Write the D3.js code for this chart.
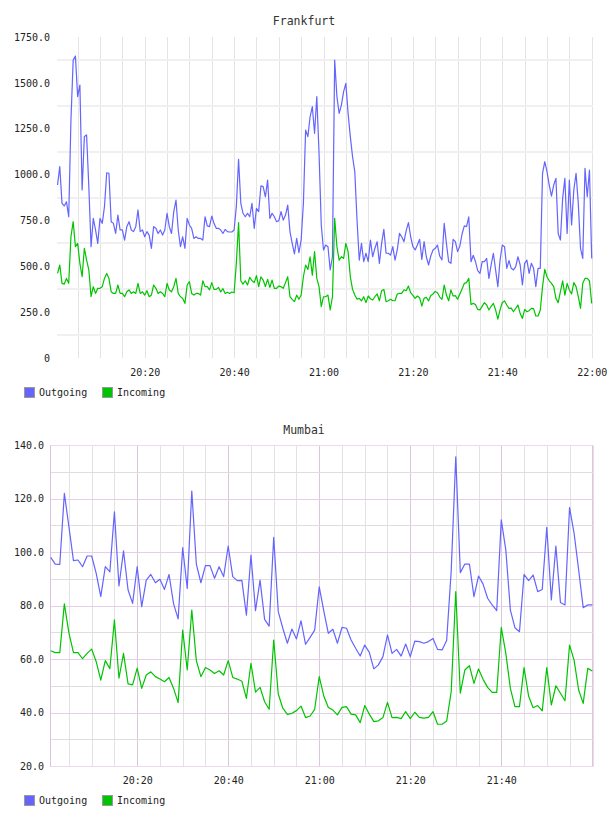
<!DOCTYPE html>
<html>
<head>
<meta charset="utf-8">
<script src="https://cdn.jsdelivr.net/npm/d3@7"></script>
<style>
  body { margin: 0; background: #fff; }
  svg text { font-family: "DejaVu Sans Mono", monospace; }
  .title { font-size: 11.5px; fill: #333; }
  .legend text { font-size: 10px; fill: #222; }
  .series { fill: none; stroke-width: 1.2; stroke-linejoin: round; }
</style>
</head>
<body>
<div id="chart"></div>
<script>
// Frankfurt: one sample every 30 s, starting 20:00:30
const frankfurtOutgoing = [
  943, 1043, 843, 829, 852, 770, 1297, 1624, 1646, 1425, 1488, 916, 1207, 1216, 934, 607,
  761, 698, 625, 761, 734, 825, 1010, 1007, 743, 734, 679, 779, 698, 698, 643, 716,
  743, 698, 689, 716, 807, 689, 698, 661, 689, 670, 598, 716, 707, 679, 698, 670,
  698, 789, 716, 679, 798, 861, 698, 607, 661, 598, 761, 725, 707, 652, 661, 652,
  652, 643, 770, 720, 716, 774, 734, 707, 707, 698, 679, 701, 689, 687, 687, 698,
  825, 1083, 843, 789, 770, 789, 770, 843, 707, 816, 798, 938, 934, 879, 970, 761,
  789, 770, 743, 749, 798, 752, 779, 834, 689, 625, 567, 652, 574, 643, 843, 1243,
  1207, 1315, 1370, 1225, 1425, 1116, 725, 589, 616, 607, 480, 552, 1624, 1425, 1334, 1379,
  1452, 1497, 1334, 1207, 1097, 1016, 752, 534, 625, 525, 571, 525, 643, 552, 598, 634,
  516, 625, 701, 571, 571, 561, 607, 534, 589, 679,
  661, 634, 694, 738, 661, 607, 589, 616, 647, 538, 634, 552, 507, 556, 589, 598,
  616, 556, 534, 734, 625, 525, 516, 647, 634, 580, 610, 676, 720, 716, 770, 525,
  560, 525, 476, 461, 525, 525, 543, 434, 507, 571, 480, 389, 534, 616, 607, 489,
  531, 489, 480, 498, 552, 507, 398, 516, 534, 461, 516, 489, 389, 489, 489, 1007,
  1070, 1016, 943, 883, 943, 979, 679, 643, 870, 979, 679, 970, 725, 916, 1007, 843,
  598, 543, 1034, 879, 1025, 543
];
const frankfurtIncoming = [
  461, 507, 407, 403, 434, 407, 661, 743, 607, 625, 516, 443, 598, 534, 480, 334,
  389, 352, 380, 380, 389, 434, 461, 434, 361, 352, 352, 398, 352, 352, 334, 361,
  371, 352, 361, 352, 407, 352, 361, 343, 367, 334, 343, 398, 380, 352, 361, 352,
  334, 407, 371, 361, 389, 434, 352, 334, 325, 298, 398, 416, 352, 343, 352, 352,
  343, 421, 389, 389, 371, 411, 374, 374, 385, 360, 378, 352, 358, 352, 360, 356,
  516, 738, 421, 403, 421, 398, 440, 421, 411, 449, 389, 443, 425, 389, 429, 385,
  425, 380, 380, 392, 389, 380, 411, 443, 334, 320, 307, 343, 320, 343, 443, 507,
  483, 552, 452, 580, 434, 389, 280, 334, 334, 343, 262, 334, 761, 607, 534, 552,
  543, 625, 580, 443, 374, 343, 320, 325, 312, 334, 302, 338, 323, 316, 334, 349,
  312, 367, 374, 307, 312, 320, 312, 312, 349, 352,
  352, 372, 367, 392, 356, 341, 325, 338, 329, 283, 325, 331, 311, 341, 349, 363,
  356, 332, 320, 398, 343, 312, 371, 338, 340, 320, 349, 376, 407, 411, 434, 292,
  298, 292, 265, 262, 283, 302, 289, 262, 282, 298, 262, 212, 262, 303, 311, 289,
  271, 272, 252, 271, 289, 242, 216, 265, 252, 258, 271, 269, 229, 229, 262, 389,
  483, 443, 421, 407, 389, 325, 302, 362, 421, 343, 407, 371, 349, 411, 389, 334,
  271, 407, 434, 434, 421, 298
];

// Mumbai: one sample a minute, starting 20:01
const mumbaiOutgoing = [
  98, 95.5, 95.4, 121.9, 109.5, 96.8, 97, 94.5, 98.5, 98.5, 92, 83.3, 94.5, 92.6, 115, 87.3,
  100.4, 85.8, 80.8, 94.5, 79.6, 89.5, 91.6, 88.5, 89.8, 86, 91.6, 80.6, 75, 101.6, 86.4, 122.8,
  95.5, 88.5, 94.9, 94.9, 90.2, 94.5, 90.8, 102.2, 90.8, 89.3, 89.4, 76.4, 98.8, 78.1, 89.5, 74.8,
  72.3, 105.5, 77.7, 71.5, 65.9, 71.2, 67.5, 74.3, 65.5, 68.1, 70.8, 87, 78,
  69.6, 71.1, 65.9, 71.8, 71.5, 67.1, 64, 61.1, 65.2, 62.5, 56.3, 57.8, 60.9, 69, 62.1, 63.6,
  61.1, 65.6, 60.9, 66.7, 66.5, 65.9, 66.5, 67.7, 63.6, 63.4, 66.9, 93, 135.6, 92.3, 95.5, 95.5,
  83.3, 91, 88, 82.7, 80.2, 78.1, 112, 100.7, 78.3, 71.7, 70.2, 91.6, 89.3, 91.4, 85.2, 86,
  109.2, 82.1, 102.2, 81.1, 80.2, 116.6, 107, 93.3, 79.2, 80.2, 80.2
];
const mumbaiIncoming = [
  63.1, 62.4, 62.4, 80.6, 69.8, 62.4, 62.4, 60.1, 62.1, 63.7, 59, 52.1, 59.4, 56.4, 74.6, 52.8,
  62.1, 50.7, 50.3, 56.6, 49, 54, 55.2, 53.4, 52.5, 51.5, 53.1, 49, 43.7, 70.8, 55.9, 78.3,
  59.4, 53.4, 56.8, 55.9, 54.6, 55.6, 54, 59.4, 53.1, 52.5, 51.7, 45.3, 58.4, 47.6, 49.4, 44,
  41.2, 67.1, 46.9, 41.6, 39.3, 39.7, 40.7, 42.4, 38.1, 38.7, 41.2, 53.4, 46.2,
  41.9, 40.9, 39.1, 41.9, 42.2, 39.4, 39.1, 36.2, 42.6, 39.4, 36.6, 36.9, 38.1, 43.8, 38.1, 38.2,
  37.7, 40.3, 37.7, 40.1, 38.2, 37.9, 38.2, 40.3, 35.6, 35.6, 36.8, 47.8, 85.2, 47.2, 55.9, 57.5,
  50.9, 56.3, 52.4, 49.4, 47.5, 47.5, 71.8, 62.1, 49, 42.2, 42.2, 56.8, 46.2, 41.8, 42.6, 40.6,
  56.8, 42.8, 50, 47.2, 44.4, 65.2, 59.6, 48.4, 43.4, 56.5, 55.5
];

// tick labels / grid values
const frankfurtYTicks = [0, 250, 500, 750, 1000, 1250, 1500, 1750];
const frankfurtYGrid  = [125, 375, 625, 875, 1125, 1375, 1625];
const mumbaiYTicks    = [20, 40, 60, 80, 100, 120, 140];
const mumbaiYMinor    = [30, 50, 70, 90, 110, 130];
const seriesNames     = ["Outgoing", "Incoming"];

const COLOR = { out: "#6464ff", in: "#00c400" };

const at = (h, m, s = 0) => new Date(2012, 0, 1, h, m, s);
const fmtTime = d3.timeFormat("%H:%M");

const svg = d3.select("#chart").append("svg")
  .attr("width", 608).attr("height", 816);

function drawChart(cfg) {
  const g = svg.append("g");
  const box = cfg.box;

  // Scales
  const x = d3.scaleTime().domain(cfg.xDomain).range(cfg.xRange);
  const y = d3.scaleLinear().domain(cfg.yDomain).range([box.bottom, box.top]);

  const times = cfg.outgoing.map((d, i) => d3.timeSecond.offset(cfg.start, i * cfg.step));

  // grid: vertical lines every 5 minutes, heavier every 20 on the framed chart
  const vTicks = x.ticks(d3.timeMinute.every(5)).filter(t => x(t) > box.left + 1 && x(t) <= box.right);
  g.append("g").selectAll("line").data(vTicks).join("line")
    .attr("x1", d => Math.round(x(d)) + 0.5).attr("x2", d => Math.round(x(d)) + 0.5)
    .attr("y1", box.top).attr("y2", box.bottom)
    .attr("stroke", d => (cfg.framed && d.getMinutes() % 20 === 0) ? "#dcc6dc" : cfg.vGridColor)
    .attr("stroke-width", 1);

  if (cfg.framed) {
    g.append("g").selectAll("line").data(cfg.yMinor).join("line")
      .attr("x1", box.left).attr("x2", box.right)
      .attr("y1", d => Math.round(y(d)) + 0.5).attr("y2", d => Math.round(y(d)) + 0.5)
      .attr("stroke", "#dedede");
    g.append("g").selectAll("line").data(cfg.yTicks).join("line")
      .attr("x1", box.left).attr("x2", box.right)
      .attr("y1", d => Math.round(y(d)) + 0.5).attr("y2", d => Math.round(y(d)) + 0.5)
      .attr("stroke", "#e6cee6");
    // frame, left side a bit darker
    g.append("rect")
      .attr("x", box.left + 0.5).attr("y", box.top + 0.5)
      .attr("width", box.right - box.left).attr("height", box.bottom - box.top)
      .attr("fill", "none").attr("stroke", "#ecdaec");
    g.append("line")
      .attr("x1", box.left + 0.5).attr("x2", box.left + 0.5)
      .attr("y1", box.top).attr("y2", box.bottom + 1)
      .attr("stroke", "#dcc4dc");
  } else {
    g.append("g").selectAll("line").data(cfg.yGrid).join("line")
      .attr("x1", box.left).attr("x2", box.right)
      .attr("y1", d => Math.round(y(d))).attr("y2", d => Math.round(y(d)))
      .attr("stroke", "#f0f0f0").attr("stroke-width", 2);
  }

  // series
  const line = d3.line().x((d, i) => x(times[i])).y(d => y(d));
  g.append("path").datum(cfg.outgoing).attr("class", "series").attr("stroke", COLOR.out).attr("d", line);
  g.append("path").datum(cfg.incoming).attr("class", "series").attr("stroke", COLOR.in).attr("d", line);

  // axis
  const xAxis = g.append("g")
    .attr("transform", `translate(0,${box.bottom})`)
    .call(d3.axisBottom(x).tickValues(cfg.xTicks).tickFormat(fmtTime).tickSize(0).tickPadding(11));
  const yAxis = g.append("g")
    .attr("transform", `translate(${box.left},0)`)
    .call(d3.axisLeft(y).tickValues(cfg.yTicks)
      .tickFormat(d => d === 0 ? "0" : d.toFixed(1)).tickSize(0).tickPadding(cfg.labelGap));
  [xAxis, yAxis].forEach(a => {
    a.select(".domain").remove();
    a.attr("font-family", "DejaVu Sans Mono, monospace").attr("font-size", 10).attr("color", "#222");
  });

  // title
  g.append("text").attr("class", "title")
    .attr("x", 304).attr("y", cfg.titleY).attr("text-anchor", "middle")
    .text(cfg.title);

  // legend
  const legend = g.append("g").attr("class", "legend")
    .attr("transform", `translate(0,${cfg.legendY})`);
  const items = legend.selectAll("g").data(seriesNames).join("g")
    .attr("transform", (d, i) => `translate(${24 + i * 78},0)`);
  items.append("rect")
    .attr("x", 0.5).attr("y", 0.5).attr("width", 10).attr("height", 10)
    .attr("fill", (d, i) => i === 0 ? COLOR.out : COLOR.in)
    .attr("stroke", "#999");
  items.append("text").attr("x", 15).attr("y", 9).text(d => d);
}

drawChart({
  title: "Frankfurt", titleY: 25,
  outgoing: frankfurtOutgoing, incoming: frankfurtIncoming,
  start: at(20, 0, 30), step: 30,
  box: { left: 57, right: 593, top: 37, bottom: 358 },
  xDomain: [at(20, 0), at(22, 0)], xRange: [55.3, 591.7],
  yDomain: [0, 1750],
  xTicks: [at(20, 20), at(20, 40), at(21, 0), at(21, 20), at(21, 40), at(22, 0)],
  yTicks: frankfurtYTicks, yGrid: frankfurtYGrid,
  labelGap: 7, vGridColor: "#e4e4e4", framed: false,
  legendY: 387
});

drawChart({
  title: "Mumbai", titleY: 434,
  outgoing: mumbaiOutgoing, incoming: mumbaiIncoming,
  start: at(20, 1), step: 60,
  box: { left: 50, right: 593, top: 445, bottom: 766 },
  xDomain: [at(20, 1), at(22, 0)], xRange: [50.7, 592.3],
  yDomain: [20, 140],
  xTicks: [at(20, 20), at(20, 40), at(21, 0), at(21, 20), at(21, 40)],
  yTicks: mumbaiYTicks, yMinor: mumbaiYMinor,
  labelGap: 6, vGridColor: "#e2e2e2", framed: true,
  legendY: 795
});
</script>
</body>
</html>
